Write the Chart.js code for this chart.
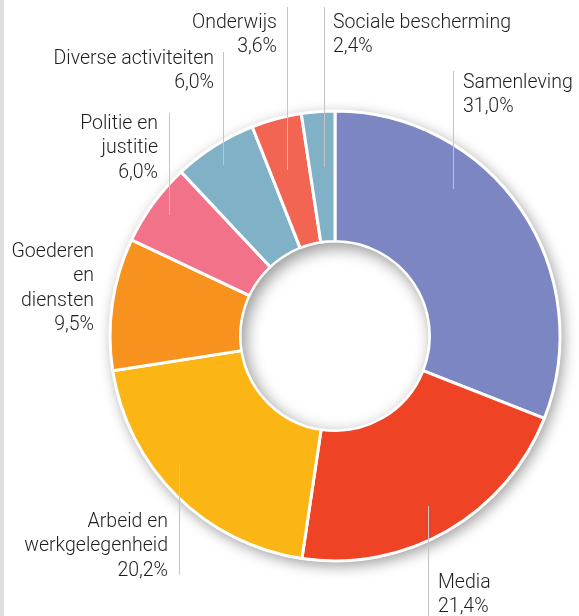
<!DOCTYPE html>
<html lang="nl">
<head>
<meta charset="utf-8">
<script src="https://cdn.jsdelivr.net/npm/chart.js@4.4.1/dist/chart.umd.min.js"></script>
<style>
  html, body { margin: 0; padding: 0; background: #fff; }
  body { width: 579px; height: 616px; position: relative; overflow: hidden; }
  #edge { position: absolute; left: 0; top: 0; width: 4px; height: 616px; background: #dedede; }
  #wrap { position: absolute; left: 0; top: 0; width: 579px; height: 616px; }
</style>
</head>
<body>
<div id="edge"></div>
<div id="wrap"><canvas id="uitgaven"></canvas></div>
<script>
const categories = [
    'Samenleving', 'Media', 'Arbeid en werkgelegenheid', 'Goederen en diensten',
    'Politie en justitie', 'Diverse activiteiten', 'Onderwijs', 'Sociale bescherming'
];
const shares = [31.0, 21.4, 20.2, 9.5, 6.0, 6.0, 3.6, 2.4];
const colors = ['#7b86c2', '#ee4324', '#fbb615', '#f7921f', '#f2728a', '#80b1c6', '#f26553', '#80b1c6'];

// label blocks: text lines, anchor and leader line (x, from y, to y)
const labelLines = [
    ['Samenleving'], ['Media'], ['Arbeid en', 'werkgelegenheid'], ['Goederen', 'en', 'diensten'],
    ['Politie en', 'justitie'], ['Diverse activiteiten'], ['Onderwijs'], ['Sociale bescherming']
];
const labelPos = [
    {x: 463, y: 88, align: 'left', line: [453, 71, 189]},
    {x: 438, y: 588, align: 'left', line: [428, 506, 616]},
    {x: 168, y: 527, align: 'right', line: [179, 464, 575]},
    {x: 94, y: 257, align: 'right', line: null},
    {x: 158, y: 129, align: 'right', line: [169, 113, 215]},
    {x: 214, y: 64, align: 'right', line: [223, 52, 165]},
    {x: 277, y: 28, align: 'right', line: [287, 7, 170]},
    {x: 333, y: 28, align: 'left', line: [324, 7, 167]}
];
const lineGap = 24.3;

function pct(v) {
    return v.toFixed(1).replace('.', ',') + '%';
}

const ringShadow = {
    id: 'ringShadow',
    beforeDatasetsDraw(chart) {
        const arc = chart.getDatasetMeta(0).data[0];
        if (!arc) return;
        const ctx = chart.ctx;
        ctx.save();
        ctx.shadowColor = 'rgba(0,0,0,0.38)';
        ctx.shadowBlur = 14;
        ctx.shadowOffsetX = 3;
        ctx.shadowOffsetY = 4;
        ctx.fillStyle = '#fff';
        ctx.beginPath();
        ctx.arc(arc.x, arc.y, arc.outerRadius + 1, 0, Math.PI * 2);
        ctx.fill();
        ctx.restore();
    },
    afterDatasetsDraw(chart) {
        // inset shadow inside the hole
        const arc = chart.getDatasetMeta(0).data[0];
        if (!arc) return;
        const ctx = chart.ctx;
        const r = arc.innerRadius - 1;
        ctx.save();
        ctx.beginPath();
        ctx.arc(arc.x, arc.y, r, 0, Math.PI * 2);
        ctx.clip();
        ctx.shadowColor = 'rgba(0,0,0,0.42)';
        ctx.shadowBlur = 16;
        ctx.shadowOffsetX = 4;
        ctx.shadowOffsetY = 5;
        ctx.fillStyle = '#fff';
        ctx.beginPath();
        ctx.arc(arc.x, arc.y, r + 60, 0, Math.PI * 2);
        ctx.arc(arc.x, arc.y, r, 0, Math.PI * 2, true);
        ctx.fill();
        ctx.restore();
    }
};

const sliceLabels = {
    id: 'sliceLabels',
    afterDraw(chart) {
        const ctx = chart.ctx;
        ctx.save();
        labelPos.forEach((p, i) => {
            if (p.line) {
                ctx.strokeStyle = '#c4c4c4';
                ctx.lineWidth = 1;
                ctx.beginPath();
                ctx.moveTo(p.line[0] + 0.5, p.line[1]);
                ctx.lineTo(p.line[0] + 0.5, p.line[2]);
                ctx.stroke();
            }
            const rows = labelLines[i].concat([pct(shares[i])]);
            ctx.font = '300 19.5px Roboto';
            ctx.fillStyle = '#1e1e1e';
            ctx.textAlign = p.align;
            ctx.textBaseline = 'alphabetic';
            rows.forEach((t, k) => ctx.fillText(t, p.x, p.y + k * lineGap));
        });
        ctx.restore();
    }
};

new Chart(document.getElementById('uitgaven'), {
    type: 'doughnut',
    data: {
        labels: categories,
        datasets: [{
            data: shares,
            backgroundColor: colors,
            borderColor: '#fff',
            borderWidth: 3,
        }]
    },
    options: {
        responsive: true,
        maintainAspectRatio: false,
        animation: false,
        cutout: '42%',
        radius: 225,
        layout: {
            padding: {left: 110, right: 19, top: 111, bottom: 55}
        },
        plugins: {
            legend: {display: false},
            tooltip: {enabled: false},
        },
    },
    plugins: [ringShadow, sliceLabels]
});
</script>
</body>
</html>
